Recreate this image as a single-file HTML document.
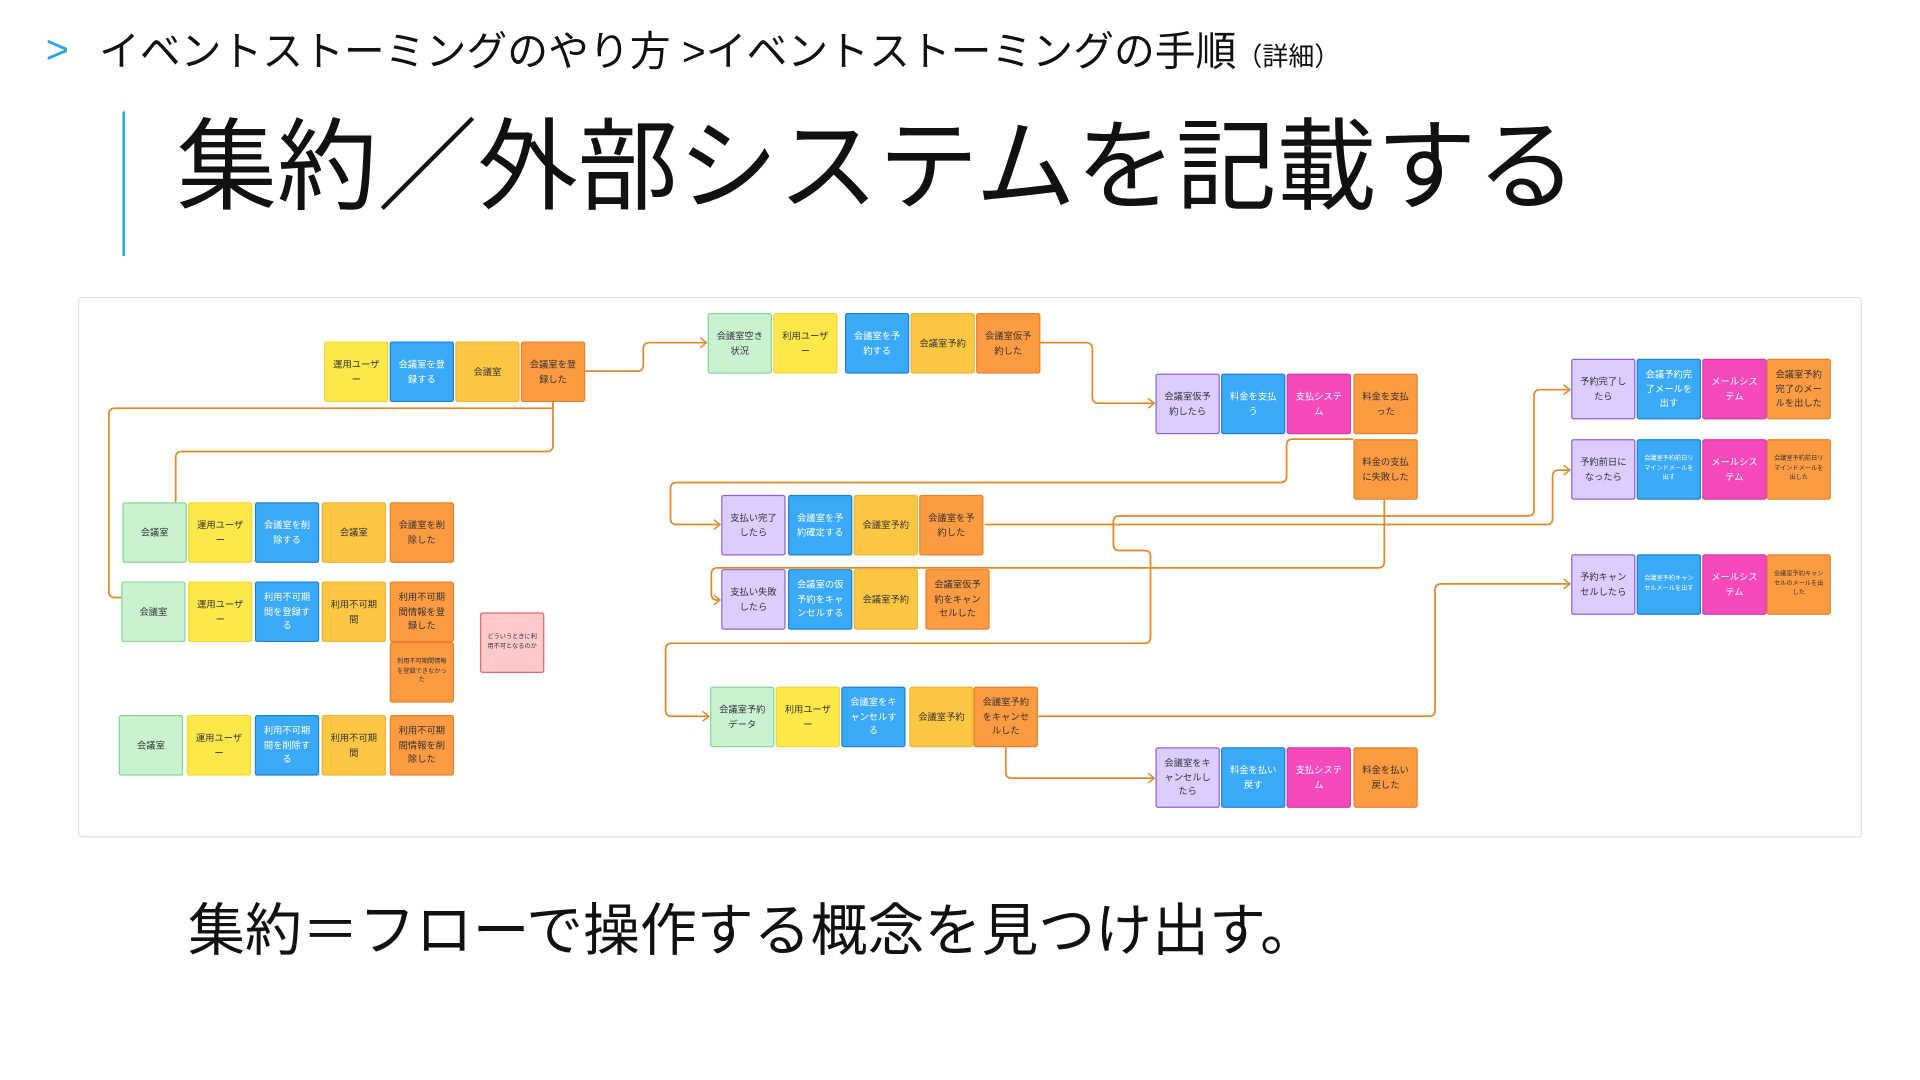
<!DOCTYPE html>
<html><head><meta charset="utf-8"><style>
*{margin:0;padding:0;box-sizing:border-box}
html,body{width:1920px;height:1080px;overflow:hidden;background:#fff}
#w{position:absolute;left:0;top:0;width:1552px;height:873px;transform:scale(1.23711);transform-origin:0 0;font-family:"Liberation Sans","Noto Sans CJK JP",sans-serif;color:#111}
.t{position:absolute;white-space:nowrap}
.s{position:absolute;width:52px;height:49px;border-radius:2px;display:flex;align-items:center;justify-content:center;text-align:center;font-size:7.5px;line-height:1.55;padding:3px 4px;border:1px solid;color:#333;word-break:break-all}
.g{background:#c9f3d0;border-color:#86d893}
.y{background:#fde84a;border-color:#f2d83a}
.b{background:#3aa9f7;border-color:#1f82d6;color:#fff}
.a{background:#fdc744;border-color:#f0b534}
.o{background:#fd9b42;border-color:#e6822e}
.p{background:#dcccff;border-color:#8b62e2}
.k{background:#f54abb;border-color:#d93aa0;color:#fff}
.n{background:#fdc9c9;border-color:#e26a6a;font-size:5px}
.sm{font-size:5px}
</style></head><body><div id="w">
<div class="t" style="left:37px;top:22px;font-size:32px;color:#2aa5e0">&gt;</div>
<div class="t" style="left:80px;top:23px;font-size:33px;line-height:38px">イベントストーミングのやり方 &gt;イベントストーミングの手順<span style="font-size:21px">（詳細）</span></div>
<div style="position:absolute;left:99px;top:90px;width:2px;height:117px;background:#2aa5e0"></div>
<div class="t" style="left:143px;top:86px;font-size:81px;line-height:100px">集約／外部システムを記載する</div>
<div style="position:absolute;left:63px;top:240px;width:1442px;height:437px;border:1px solid #e2e2e2;border-radius:3px"></div>
<div class="t" style="left:152px;top:725px;font-size:46px;line-height:54px">集約＝フローで操作する概念を見つけ出す。</div>

<svg style="position:absolute;left:0;top:0" width="1552" height="873" fill="none" stroke="#e08a2a" stroke-width="1.4">
<path d="M473,300 H515 Q520,300 520,295 V282 Q520,277 525,277 H570"/>
<path d="M447,326 V325 V330 H93 Q88,330 88,335 V478 Q88,483 93,483 H98"/>
<path d="M447,326 V360 Q447,365 442,365 H147 Q142,365 142,370 V406"/>
<path d="M841,277 H878 Q883,277 883,282 V321 Q883,326 888,326 H932"/>
<path d="M1094,355 H1045 Q1040,355 1040,360 V385 Q1040,390 1035,390 H547 Q542,390 542,395 V419 Q542,424 547,424 H581"/>
<path d="M1119,404 V454 Q1119,459 1114,459 H580 Q575,459 575,464 V480 Q575,485 580,485 H581"/>
<path d="M796,424 H1250 Q1255,424 1255,419 V385 Q1255,380 1260,380 H1268"/>
<path d="M900,424 V422 Q900,417 905,417 H1235 Q1240,417 1240,412 V320 Q1240,315 1245,315 H1268"/>
<path d="M900,424 V440 Q900,445 905,445 H925 Q930,445 930,450 V515 Q930,520 925,520 H543 Q538,520 538,525 V574 Q538,579 543,579 H572"/>
<path d="M839,579 H1155 Q1160,579 1160,574 V477 Q1160,472 1165,472 H1268"/>
<path d="M813,604 V624 Q813,629 818,629 H932"/>
<g stroke-width="1.2">
<path d="M566,273 L571,277 L566,281"/><path d="M928,322 L933,326 L928,330"/><path d="M577,420 L582,424 L577,428"/><path d="M577,481 L582,485 L577,489"/>
<path d="M1264,311 L1269,315 L1264,319"/><path d="M1264,376 L1269,380 L1264,384"/><path d="M568,575 L573,579 L568,583"/><path d="M1264,468 L1269,472 L1264,476"/><path d="M928,625 L933,629 L928,633"/>
</g>
</svg>

<div class="s y" style="left:262px;top:276px">運用ユーザー</div>
<div class="s b" style="left:315px;top:276px">会議室を登録する</div>
<div class="s a" style="left:368px;top:276px">会議室</div>
<div class="s o" style="left:421px;top:276px">会議室を登録した</div>

<div class="s g" style="left:572px;top:253px">会議室空き状況</div>
<div class="s y" style="left:625px;top:253px">利用ユーザー</div>
<div class="s b" style="left:683px;top:253px">会議室を予約する</div>
<div class="s a" style="left:736px;top:253px">会議室予約</div>
<div class="s o" style="left:789px;top:253px">会議室仮予約した</div>

<div class="s p" style="left:934px;top:302px">会議室仮予約したら</div>
<div class="s b" style="left:987px;top:302px">料金を支払う</div>
<div class="s k" style="left:1040px;top:302px">支払システム</div>
<div class="s o" style="left:1094px;top:302px">料金を支払った</div>
<div class="s o" style="left:1094px;top:355px">料金の支払に失敗した</div>

<div class="s g" style="left:99px;top:406px">会議室</div>
<div class="s y" style="left:152px;top:406px">運用ユーザー</div>
<div class="s b" style="left:206px;top:406px">会議室を削除する</div>
<div class="s a" style="left:260px;top:406px">会議室</div>
<div class="s o" style="left:315px;top:406px">会議室を削除した</div>

<div class="s g" style="left:98px;top:470px">会議室</div>
<div class="s y" style="left:152px;top:470px">運用ユーザー</div>
<div class="s b" style="left:206px;top:470px">利用不可期間を登録する</div>
<div class="s a" style="left:260px;top:470px">利用不可期間</div>
<div class="s o" style="left:315px;top:470px">利用不可期間情報を登録した</div>
<div class="s o sm" style="left:315px;top:519px">利用不可期間情報を登録できなかった</div>
<div class="s n" style="left:388px;top:495px">どういうときに利用不可となるのか</div>

<div class="s g" style="left:96px;top:578px">会議室</div>
<div class="s y" style="left:151px;top:578px">運用ユーザー</div>
<div class="s b" style="left:206px;top:578px">利用不可期間を削除する</div>
<div class="s a" style="left:260px;top:578px">利用不可期間</div>
<div class="s o" style="left:315px;top:578px">利用不可期間情報を削除した</div>

<div class="s p" style="left:583px;top:400px">支払い完了したら</div>
<div class="s b" style="left:637px;top:400px">会議室を予約確定する</div>
<div class="s a" style="left:690px;top:400px">会議室予約</div>
<div class="s o" style="left:743px;top:400px">会議室を予約した</div>

<div class="s p" style="left:583px;top:460px">支払い失敗したら</div>
<div class="s b" style="left:637px;top:460px">会議室の仮予約をキャンセルする</div>
<div class="s a" style="left:690px;top:460px">会議室予約</div>
<div class="s o" style="left:748px;top:460px">会議室仮予約をキャンセルした</div>

<div class="s g" style="left:574px;top:555px">会議室予約データ</div>
<div class="s y" style="left:627px;top:555px">利用ユーザー</div>
<div class="s b" style="left:680px;top:555px">会議室をキャンセルする</div>
<div class="s a" style="left:735px;top:555px">会議室予約</div>
<div class="s o" style="left:787px;top:555px">会議室予約をキャンセルした</div>

<div class="s p" style="left:934px;top:604px">会議室をキャンセルしたら</div>
<div class="s b" style="left:987px;top:604px">料金を払い戻す</div>
<div class="s k" style="left:1040px;top:604px">支払システム</div>
<div class="s o" style="left:1094px;top:604px">料金を払い戻した</div>

<div class="s p" style="left:1270px;top:290px">予約完了したら</div>
<div class="s b" style="left:1323px;top:290px">会議予約完了メールを出す</div>
<div class="s k" style="left:1376px;top:290px">メールシステム</div>
<div class="s o" style="left:1428px;top:290px">会議室予約完了のメールを出した</div>

<div class="s p" style="left:1270px;top:355px">予約前日になったら</div>
<div class="s b sm" style="left:1323px;top:355px">会議室予約前日リマインドメールを出す</div>
<div class="s k" style="left:1376px;top:355px">メールシステム</div>
<div class="s o sm" style="left:1428px;top:355px">会議室予約前日リマインドメールを出した</div>

<div class="s p" style="left:1270px;top:448px">予約キャンセルしたら</div>
<div class="s b sm" style="left:1323px;top:448px">会議室予約キャンセルメールを出す</div>
<div class="s k" style="left:1376px;top:448px">メールシステム</div>
<div class="s o sm" style="left:1428px;top:448px">会議室予約キャンセルのメールを出した</div>
</div></body></html>
